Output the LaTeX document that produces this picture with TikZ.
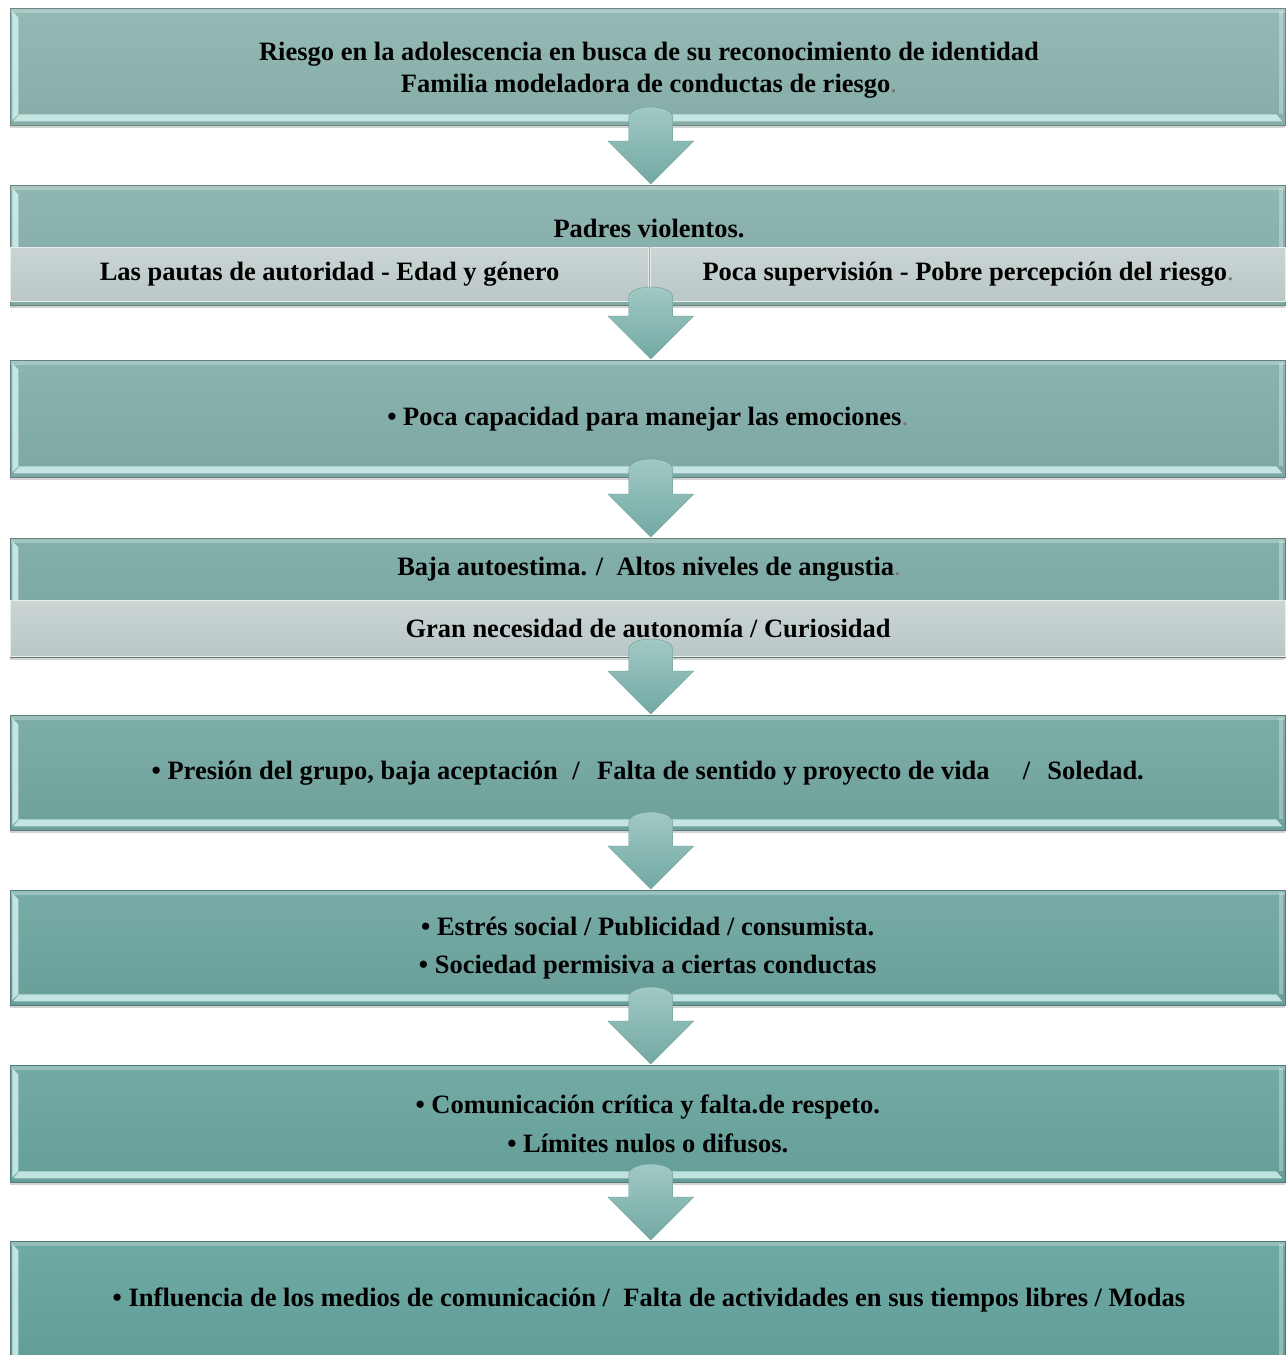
\documentclass[tikz,border=0pt]{standalone}
\usepackage{fontspec}
\setmainfont{Liberation Serif}
\usetikzlibrary{shadows,calc}
\definecolor{bxa}{HTML}{8CB4AF}
\definecolor{bxb}{HTML}{87B1AC}
\definecolor{bxc}{HTML}{82AEA9}
\definecolor{bxd}{HTML}{7AAAA4}
\definecolor{bxe}{HTML}{73A7A1}
\definecolor{bxf}{HTML}{6EA59F}
\definecolor{bxg}{HTML}{69A49E}
\definecolor{bxh}{HTML}{64A39D}
\definecolor{bevelc}{HTML}{D2F0EC}
\definecolor{subtop}{HTML}{CAD5D4}
\definecolor{subbot}{HTML}{B9C7C6}
\definecolor{arlight}{HTML}{A3CAC6}
\definecolor{ardark}{HTML}{72A9A3}
\newcommand\gp{{\mdseries\color{black!55}.}}
\newcommand\flowarrow[2]{%
  \path[arrowshape] let \p1=(#1.south), \p2=(#2.north) in
    (\x1-19pt,\y1+8pt) .. controls (\x1-19pt,\y1+22pt) and (\x1+25pt,\y1+22pt) .. (\x1+25pt,\y1+8pt)
    -- (\x1+25pt,\y2+44pt) -- (\x1+46pt,\y2+44pt) -- (\x1+3pt,\y2+1pt)
    -- (\x1-40pt,\y2+44pt) -- (\x1-19pt,\y2+44pt) -- cycle;}
\begin{document}
\begin{tikzpicture}[x=1pt,y=-1pt,
  txt/.style={font=\bfseries\fontsize{26.5}{32}\selectfont, align=center, inner sep=0pt, text=black},
  box/.style={anchor=north west, inner sep=0pt, minimum width=1275pt,
    draw=#1!75!black, line width=0.5pt,
    top color=#1!93!white, bottom color=#1!96!black,
    drop shadow={opacity=0.35, shadow xshift=0pt, shadow yshift=-3pt},
    txt,
    path picture={
      \fill[bevelc, opacity=0.85]
        ([xshift=3pt,yshift=4pt]path picture bounding box.south west)
        -- ([xshift=-3pt,yshift=4pt]path picture bounding box.south east)
        -- ([xshift=-9pt,yshift=11pt]path picture bounding box.south east)
        -- ([xshift=9pt,yshift=11pt]path picture bounding box.south west) -- cycle;
      \fill[bevelc, opacity=0.85]
        ([xshift=2pt,yshift=-3pt]path picture bounding box.north west)
        -- ([xshift=2pt,yshift=5pt]path picture bounding box.south west)
        -- ([xshift=8pt,yshift=11pt]path picture bounding box.south west)
        -- ([xshift=8pt,yshift=-9pt]path picture bounding box.north west) -- cycle;
      \fill[white, opacity=0.25]
        ([yshift=-1pt]path picture bounding box.north west)
        rectangle ([yshift=-5pt]path picture bounding box.north east);
      \fill[white, opacity=0.3]
        ([xshift=-2pt,yshift=-3pt]path picture bounding box.north east)
        rectangle ([xshift=-6pt,yshift=11pt]path picture bounding box.south east);
    }},
  subbox/.style={anchor=north west, inner sep=0pt,
    draw=white!85!gray, line width=1.2pt,
    top color=subtop, bottom color=subbot, txt},
  arrowshape/.style={top color=arlight, bottom color=ardark, draw=ardark!85!black, line width=0.3pt}
]
\useasboundingbox (0,0) rectangle (1287,1355);

% boxes
\node[box=bxa, minimum height=117pt] (b1) at (10,8) {};
\node[box=bxb, minimum height=120pt] (b2) at (10,185) {};
\node[box=bxc, minimum height=117pt] (b3) at (10,360)
  {\textbullet\ Poca capacidad para manejar las emociones\gp};
\node[box=bxd, minimum height=119pt] (b4) at (10,538) {};
\node[box=bxe, minimum height=115pt] (b5) at (10,715)
  {\textbullet\ Presión del grupo, baja aceptación \hspace{0.3em}/\hspace{0.4em} Falta de sentido y proyecto de vida \hspace{1em}/\hspace{0.4em} Soledad.};
\node[box=bxf, minimum height=115pt] (b6) at (10,890)
  {\textbullet\ Estrés social / Publicidad / consumista.\\[6pt]
   \textbullet\ Sociedad permisiva a ciertas conductas};
\node[box=bxg, minimum height=117pt] (b7) at (10,1065)
  {\textbullet\ Comunicación crítica y falta.de respeto.\\[7pt]
   \textbullet\ Límites nulos o difusos.};
\node[box=bxh, minimum height=135pt] (b8) at (10,1241) {};

% texts and sub-boxes
\node[txt] (t1) at (649,70)
  {Riesgo en la adolescencia en busca de su reconocimiento de identidad\\
   Familia modeladora de conductas de riesgo\gp};
\node[txt] (t2) at (649,228) {Padres violentos.};
\node[subbox, minimum width=638pt, minimum height=54pt] (s2a) at (10,247)
  {Las pautas de autoridad - Edad y género};
\node[subbox, minimum width=635pt, minimum height=54pt] (s2b) at (650,247)
  {Poca supervisión - Pobre percepción del riesgo\gp};
\node[txt] (t4) at (649,569) {Baja autoestima. / \ Altos niveles de angustia\gp};
\node[subbox, minimum width=1275pt, minimum height=56pt] (s4) at (10,600)
  {Gran necesidad de autonomía / Curiosidad};
\node[txt] (t8) at (649,1300)
  {\textbullet\ Influencia de los medios de comunicación / \ Falta de actividades en sus tiempos libres / Modas};

% arrows
\flowarrow{b1}{b2}
\flowarrow{b2}{b3}
\flowarrow{b3}{b4}
\flowarrow{b4}{b5}
\flowarrow{b5}{b6}
\flowarrow{b6}{b7}
\flowarrow{b7}{b8}
\end{tikzpicture}
\end{document}
